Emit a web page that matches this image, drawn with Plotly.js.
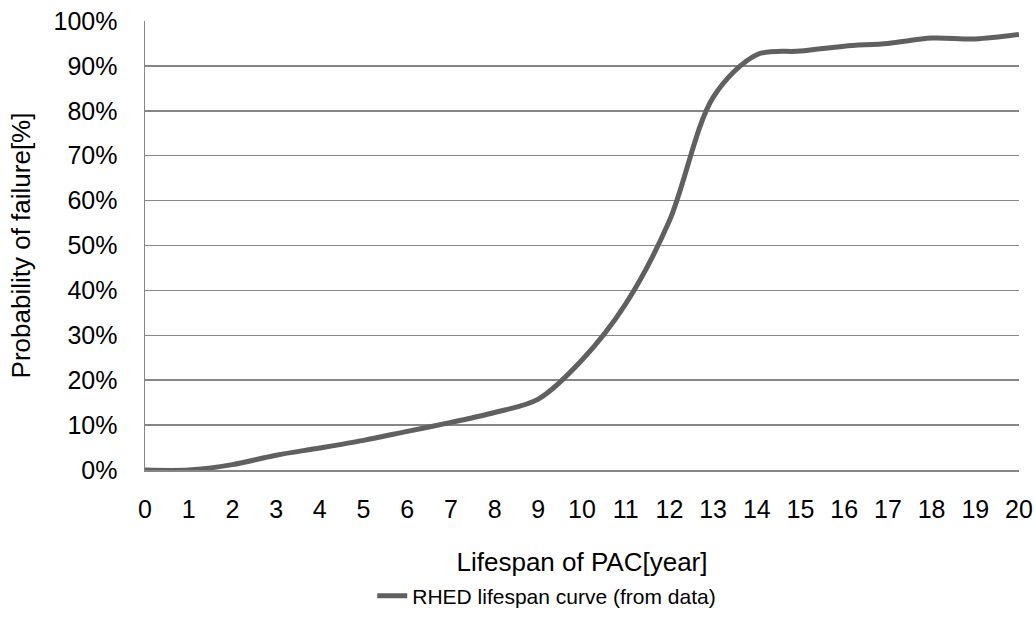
<!DOCTYPE html>
<html>
<head>
<meta charset="utf-8">
<script src="https://cdn.plot.ly/plotly-3.0.1.min.js"></script>
<style>html,body{margin:0;padding:0;background:#fff;}#chart{width:1035px;height:636px;}</style>
</head>
<body>
<div id="chart"></div>
<script>
// Lifespan in years
const years = [0, 1, 2, 3, 4, 5, 6, 7, 8, 9, 10, 11, 12, 13, 14, 15, 16, 17, 18, 19, 20];
// Probability of failure (fraction)
const failureProb = [0.000, 0.000, 0.012, 0.033, 0.049, 0.066, 0.086, 0.106, 0.128, 0.158, 0.245, 0.370, 0.555, 0.830, 0.925, 0.933, 0.944, 0.950, 0.962, 0.960, 0.970];
const seriesName = 'RHED lifespan curve (from data)';

const trace = {
  x: years,
  y: failureProb,
  type: 'scatter',
  mode: 'lines',
  name: seriesName,
  line: {color: '#606060', width: 5, shape: 'spline', smoothing: 0.9},
  hoverinfo: 'x+y'
};

const fam = 'Liberation Sans, Arial, sans-serif';
const tickFont = {family: fam, size: 25, color: '#000'};
const titleFont = {family: fam, size: 26, color: '#000'};
const legendFont = {family: fam, size: 21, color: '#000'};

const layout = {
  width: 1035, height: 636,
  margin: {l: 145, r: 16, t: 21, b: 166},
  paper_bgcolor: '#fff', plot_bgcolor: '#fff',
  font: tickFont,
  showlegend: true,
  legend: {orientation: 'h', x: 0.26, xanchor: 'left', xref: 'paper', y: -0.235, yanchor: 'top', font: legendFont},
  xaxis: {
    range: [0, 20], dtick: 1, tick0: 0,
    showgrid: false, zeroline: false,
    showline: true, linecolor: '#868686', linewidth: 1.5,
    ticks: '', ticklabelstandoff: 16,
    tickfont: tickFont,
    title: {text: 'Lifespan of PAC[year]', font: titleFont, standoff: 31}
  },
  yaxis: {
    range: [0, 1], dtick: 0.1, tick0: 0, tickformat: '.0%',
    showgrid: true, gridcolor: '#868686', gridwidth: 1.5,
    zeroline: false,
    showline: true, linecolor: '#868686', linewidth: 1.5,
    ticks: '', ticklabelstandoff: 21,
    tickfont: tickFont,
    title: {text: 'Probability of failure[%]', font: titleFont, standoff: 15}
  }
};

Plotly.newPlot('chart', [trace], layout, {displayModeBar: false, staticPlot: true});
</script>
</body>
</html>
